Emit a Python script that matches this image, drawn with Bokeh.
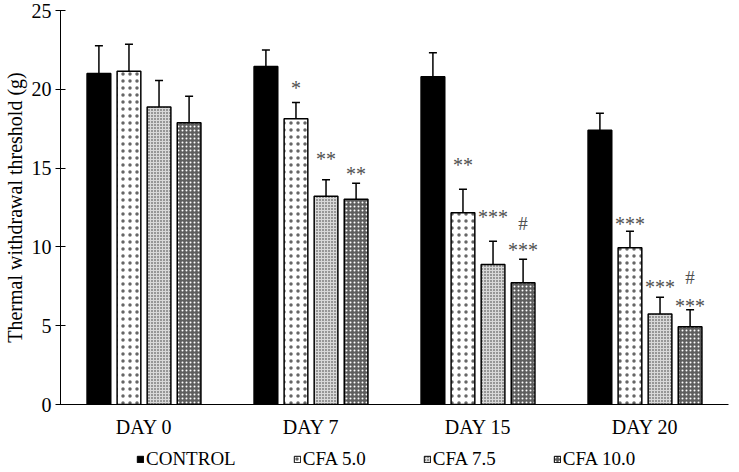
from bokeh.plotting import figure
from bokeh.layouts import column
from bokeh.models import (ColumnDataSource, Whisker, Range1d, FixedTicker, Legend,
                          LegendItem, TeeHead)
from bokeh.embed import file_html
from bokeh.resources import INLINE
from bokeh.core.properties import value

# ---- data ----
days = ["DAY 0", "DAY 7", "DAY 15", "DAY 20"]
series = ["CONTROL", "CFA 5.0", "CFA 7.5", "CFA 10.0"]
control = [21.0, 21.45, 20.8, 17.4]
cfa5 = [21.15, 18.13, 12.16, 9.94]
cfa75 = [18.87, 13.22, 8.88, 5.75]
cfa10 = [17.87, 13.03, 7.72, 4.93]
control_err = [1.76, 1.05, 1.52, 1.08]
cfa5_err = [1.71, 1.03, 1.50, 1.06]
cfa75_err = [1.69, 1.04, 1.48, 1.06]
cfa10_err = [1.69, 1.01, 1.50, 1.08]
# significance marks: day index, series index, text, y value of the mark
sig_day = [1, 1, 1, 2, 2, 2, 2, 3, 3, 3, 3]
sig_series = [1, 2, 3, 1, 2, 3, 3, 1, 2, 3, 3]
sig_text = ["*", "**", "**", "**", "***", "***", "#", "***", "***", "***", "#"]
sig_y = [20.37, 15.9, 14.95, 15.53, 12.2, 10.15, 11.47, 11.74, 7.76, 6.54, 8.08]

FONT = "Liberation Serif"
means = [control, cfa5, cfa75, cfa10]
errs = [control_err, cfa5_err, cfa75_err, cfa10_err]
step = 0.18
bar_w = 0.142
offsets = [(-1.5 + k) * step for k in range(4)]

styles = [
    dict(fill_color="black"),
    dict(fill_color="white", hatch_pattern="dot", hatch_color="black", hatch_scale=7,
         hatch_weight=0.3, hatch_alpha=0.6),
    dict(fill_color="#d8d8d8", hatch_pattern="dot", hatch_color="#303030", hatch_scale=3, hatch_weight=0.4),
    dict(fill_color="#5e5e5e", hatch_pattern="dot", hatch_color="white", hatch_scale=4, hatch_weight=0.8),
]

W = 729
p = figure(width=W, height=446, output_backend="svg", toolbar_location=None,
           x_range=Range1d(-0.5, 3.5), y_range=Range1d(0, 25),
           min_border_left=56, min_border_right=1, min_border_top=10, min_border_bottom=42)
p.outline_line_color = None
p.xgrid.visible = False
p.ygrid.visible = False

for k in range(4):
    xs = [i + offsets[k] for i in range(len(days))]
    src = ColumnDataSource(dict(x=xs, top=means[k],
                                upper=[m + e for m, e in zip(means[k], errs[k])],
                                lower=[m - e for m, e in zip(means[k], errs[k])]))
    p.vbar(x="x", top="top", width=bar_w, source=src, line_color="black",
           line_width=1.5, **styles[k])
    w = Whisker(source=src, base="x", upper="upper", lower="lower",
                line_color="black", line_width=1.5,
                upper_head=TeeHead(size=8, line_color="black", line_width=1.5),
                lower_head=TeeHead(size=8, line_color="black", line_width=1.5))
    p.add_layout(w)

sig_x = [d + offsets[s] for d, s in zip(sig_day, sig_series)]
star_idx = [i for i, t in enumerate(sig_text) if t != "#"]
hash_idx = [i for i, t in enumerate(sig_text) if t == "#"]
p.text(x=[sig_x[i] for i in star_idx], y=[sig_y[i] for i in star_idx],
       text=[sig_text[i] for i in star_idx], text_align="center", text_baseline="middle",
       y_offset=5, text_font=value(FONT), text_font_size="20px", text_color="#505050")
p.text(x=[sig_x[i] for i in hash_idx], y=[sig_y[i] for i in hash_idx],
       text=[sig_text[i] for i in hash_idx], text_align="center", text_baseline="middle",
       text_font=value(FONT), text_font_size="19px", text_color="#505050")

# axes
p.xaxis.ticker = FixedTicker(ticks=list(range(len(days))))
p.xaxis.major_label_overrides = {i: d for i, d in enumerate(days)}
p.xaxis.major_tick_in = 0
p.xaxis.major_tick_out = 0
p.xaxis.minor_tick_line_color = None
p.xaxis.major_label_standoff = 11

p.yaxis.ticker = FixedTicker(ticks=[0, 5, 10, 15, 20, 25])
p.yaxis.major_tick_in = 5
p.yaxis.major_tick_out = 5
p.yaxis.minor_tick_line_color = None
p.yaxis.major_label_standoff = 4
p.yaxis.axis_label = "Thermal withdrawal threshold (g)"
p.yaxis.axis_label_standoff = 3
p.yaxis.axis_label_text_font_style = "normal"

for ax in (p.xaxis[0], p.yaxis[0]):
    ax.major_label_text_font = FONT
    ax.major_label_text_font_size = "20px"
    ax.major_label_text_color = "black"
    ax.axis_label_text_font = FONT
    ax.axis_label_text_font_size = "20px"
    ax.axis_label_text_color = "black"
    ax.axis_line_color = "black"
    ax.axis_line_width = 1
    ax.major_tick_line_color = "black"

# legend row drawn in its own strip below the chart (frame aligned with the chart's)
lg = figure(width=W, height=24, output_backend="svg", toolbar_location=None,
            x_axis_type=None, y_axis_type=None,
            x_range=Range1d(0, 1), y_range=Range1d(0, 1),
            min_border_left=56, min_border_right=1, min_border_top=0, min_border_bottom=0)
lg.xgrid.visible = False
lg.ygrid.visible = False
lg.outline_line_color = None
items = []
for k in range(4):
    r = lg.vbar(x=[-5], top=[0], width=0.1, line_color="black", line_width=1, **styles[k])
    items.append(LegendItem(label=series[k], renderers=[r]))
legend = Legend(items=items, orientation="horizontal", location=(76, 0),
                label_text_font=FONT, label_text_font_size="19px", label_text_color="black",
                glyph_width=8, glyph_height=8, label_standoff=2, spacing=57,
                padding=1, margin=0, border_line_color=None, background_fill_alpha=0)
lg.add_layout(legend, "center")

open("out.html", "w").write(file_html(column(p, lg, spacing=0), INLINE))
